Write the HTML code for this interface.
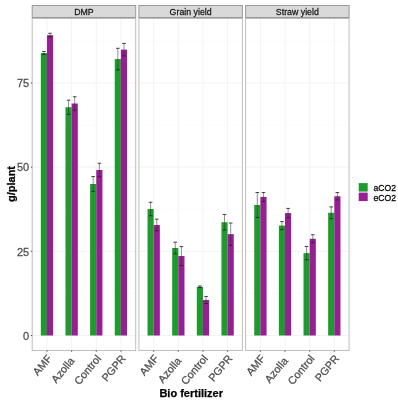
<!DOCTYPE html>
<html><head><meta charset="utf-8"><style>
html,body{margin:0;padding:0;background:#fff;width:398px;height:400px;overflow:hidden}
svg{display:block;font-family:"Liberation Sans", sans-serif;will-change:transform}
text{stroke-width:0.25px}
</style></head><body>
<svg width="398" height="400" viewBox="0 0 398 400">
<rect x="0" y="0" width="398" height="400" fill="#fff"/>
<rect x="32.2" y="18.5" width="103.5" height="332" fill="#fff"/>
<line x1="32.2" x2="135.7" y1="293.41" y2="293.41" stroke="#fafafa" stroke-width="0.8"/>
<line x1="32.2" x2="135.7" y1="209.24" y2="209.24" stroke="#fafafa" stroke-width="0.8"/>
<line x1="32.2" x2="135.7" y1="125.06" y2="125.06" stroke="#fafafa" stroke-width="0.8"/>
<line x1="32.2" x2="135.7" y1="40.89" y2="40.89" stroke="#fafafa" stroke-width="0.8"/>
<line x1="32.2" x2="135.7" y1="335.5" y2="335.5" stroke="#f3f3f3" stroke-width="1"/>
<line x1="32.2" x2="135.7" y1="251.32" y2="251.32" stroke="#f3f3f3" stroke-width="1"/>
<line x1="32.2" x2="135.7" y1="167.15" y2="167.15" stroke="#f3f3f3" stroke-width="1"/>
<line x1="32.2" x2="135.7" y1="82.97" y2="82.97" stroke="#f3f3f3" stroke-width="1"/>
<line x1="46.99" x2="46.99" y1="18.5" y2="350.5" stroke="#f3f3f3" stroke-width="1"/>
<line x1="71.63" x2="71.63" y1="18.5" y2="350.5" stroke="#f3f3f3" stroke-width="1"/>
<line x1="96.27" x2="96.27" y1="18.5" y2="350.5" stroke="#f3f3f3" stroke-width="1"/>
<line x1="120.91" x2="120.91" y1="18.5" y2="350.5" stroke="#f3f3f3" stroke-width="1"/>
<rect x="40.83" y="53.01" width="6.16" height="282.49" fill="#1f9a2e"/>
<rect x="46.99" y="35.16" width="6.16" height="300.34" fill="#961f92"/>
<rect x="65.47" y="107.22" width="6.16" height="228.28" fill="#1f9a2e"/>
<rect x="71.63" y="103.51" width="6.16" height="231.99" fill="#961f92"/>
<rect x="90.11" y="183.99" width="6.16" height="151.51" fill="#1f9a2e"/>
<rect x="96.27" y="170.01" width="6.16" height="165.49" fill="#961f92"/>
<rect x="114.75" y="59.07" width="6.16" height="276.43" fill="#1f9a2e"/>
<rect x="120.91" y="49.64" width="6.16" height="285.86" fill="#961f92"/>
<path d="M43.91 51.49V54.52" stroke="#333" stroke-width="0.55" fill="none"/>
<path d="M42.11 51.49H45.71M42.11 54.52H45.71" stroke="#222" stroke-width="0.85" fill="none"/>
<path d="M50.07 33.31V37.02" stroke="#333" stroke-width="0.55" fill="none"/>
<path d="M48.27 33.31H51.87M48.27 37.02H51.87" stroke="#222" stroke-width="0.85" fill="none"/>
<path d="M68.55 100.15V114.29" stroke="#333" stroke-width="0.55" fill="none"/>
<path d="M66.75 100.15H70.35M66.75 114.29H70.35" stroke="#222" stroke-width="0.85" fill="none"/>
<path d="M74.71 96.78V110.25" stroke="#333" stroke-width="0.55" fill="none"/>
<path d="M72.91 96.78H76.51M72.91 110.25H76.51" stroke="#222" stroke-width="0.85" fill="none"/>
<path d="M93.19 176.58V191.39" stroke="#333" stroke-width="0.55" fill="none"/>
<path d="M91.39 176.58H94.99M91.39 191.39H94.99" stroke="#222" stroke-width="0.85" fill="none"/>
<path d="M99.35 163.28V176.75" stroke="#333" stroke-width="0.55" fill="none"/>
<path d="M97.55 163.28H101.15M97.55 176.75H101.15" stroke="#222" stroke-width="0.85" fill="none"/>
<path d="M117.83 48.29V69.84" stroke="#333" stroke-width="0.55" fill="none"/>
<path d="M116.03 48.29H119.63M116.03 69.84H119.63" stroke="#222" stroke-width="0.85" fill="none"/>
<path d="M123.99 43.41V55.87" stroke="#333" stroke-width="0.55" fill="none"/>
<path d="M122.19 43.41H125.79M122.19 55.87H125.79" stroke="#222" stroke-width="0.85" fill="none"/>
<rect x="32.2" y="18.5" width="103.5" height="332" fill="none" stroke="#bdbdbd" stroke-width="1"/>
<rect x="32.2" y="5.5" width="103.5" height="12" fill="#d9d9d9" stroke="#999" stroke-width="1"/>
<text transform="translate(83.95 14.6) scale(1 1.1)" x="0" y="0" font-size="8.8" fill="#1a1a1a" stroke="#1a1a1a" text-anchor="middle">DMP</text>
<line x1="46.99" x2="46.99" y1="350.5" y2="351.8" stroke="#555" stroke-width="1"/>
<text transform="translate(46.49 353.8) rotate(-50) scale(1 1.0)" x="0" y="7.78" font-size="10.8" fill="#4d4d4d" stroke="#4d4d4d" text-anchor="end">AMF</text>
<line x1="71.63" x2="71.63" y1="350.5" y2="351.8" stroke="#555" stroke-width="1"/>
<text transform="translate(71.13 353.8) rotate(-50) scale(1 1.0)" x="0" y="7.78" font-size="10.8" fill="#4d4d4d" stroke="#4d4d4d" text-anchor="end">Azolla&#160;</text>
<line x1="96.27" x2="96.27" y1="350.5" y2="351.8" stroke="#555" stroke-width="1"/>
<text transform="translate(95.77 353.8) rotate(-50) scale(1 1.0)" x="0" y="7.78" font-size="10.8" fill="#4d4d4d" stroke="#4d4d4d" text-anchor="end">Control</text>
<line x1="120.91" x2="120.91" y1="350.5" y2="351.8" stroke="#555" stroke-width="1"/>
<text transform="translate(120.41 353.8) rotate(-50) scale(1 1.0)" x="0" y="7.78" font-size="10.8" fill="#4d4d4d" stroke="#4d4d4d" text-anchor="end">PGPR</text>
<rect x="138.9" y="18.5" width="103.5" height="332" fill="#fff"/>
<line x1="138.9" x2="242.4" y1="293.41" y2="293.41" stroke="#fafafa" stroke-width="0.8"/>
<line x1="138.9" x2="242.4" y1="209.24" y2="209.24" stroke="#fafafa" stroke-width="0.8"/>
<line x1="138.9" x2="242.4" y1="125.06" y2="125.06" stroke="#fafafa" stroke-width="0.8"/>
<line x1="138.9" x2="242.4" y1="40.89" y2="40.89" stroke="#fafafa" stroke-width="0.8"/>
<line x1="138.9" x2="242.4" y1="335.5" y2="335.5" stroke="#f3f3f3" stroke-width="1"/>
<line x1="138.9" x2="242.4" y1="251.32" y2="251.32" stroke="#f3f3f3" stroke-width="1"/>
<line x1="138.9" x2="242.4" y1="167.15" y2="167.15" stroke="#f3f3f3" stroke-width="1"/>
<line x1="138.9" x2="242.4" y1="82.97" y2="82.97" stroke="#f3f3f3" stroke-width="1"/>
<line x1="153.69" x2="153.69" y1="18.5" y2="350.5" stroke="#f3f3f3" stroke-width="1"/>
<line x1="178.33" x2="178.33" y1="18.5" y2="350.5" stroke="#f3f3f3" stroke-width="1"/>
<line x1="202.97" x2="202.97" y1="18.5" y2="350.5" stroke="#f3f3f3" stroke-width="1"/>
<line x1="227.61" x2="227.61" y1="18.5" y2="350.5" stroke="#f3f3f3" stroke-width="1"/>
<rect x="147.53" y="209" width="6.16" height="126.5" fill="#1f9a2e"/>
<rect x="153.69" y="225.06" width="6.16" height="110.44" fill="#961f92"/>
<rect x="172.17" y="247.99" width="6.16" height="87.51" fill="#1f9a2e"/>
<rect x="178.33" y="256.04" width="6.16" height="79.46" fill="#961f92"/>
<rect x="196.81" y="286.81" width="6.16" height="48.69" fill="#1f9a2e"/>
<rect x="202.97" y="299.98" width="6.16" height="35.52" fill="#961f92"/>
<rect x="221.45" y="222.23" width="6.16" height="113.27" fill="#1f9a2e"/>
<rect x="227.61" y="234.15" width="6.16" height="101.35" fill="#961f92"/>
<path d="M150.61 202.27V215.74" stroke="#333" stroke-width="0.55" fill="none"/>
<path d="M148.81 202.27H152.41M148.81 215.74H152.41" stroke="#222" stroke-width="0.85" fill="none"/>
<path d="M156.77 219.17V230.95" stroke="#333" stroke-width="0.55" fill="none"/>
<path d="M154.97 219.17H158.57M154.97 230.95H158.57" stroke="#222" stroke-width="0.85" fill="none"/>
<path d="M175.25 242.2V253.78" stroke="#333" stroke-width="0.55" fill="none"/>
<path d="M173.45 242.2H177.05M173.45 253.78H177.05" stroke="#222" stroke-width="0.85" fill="none"/>
<path d="M181.41 246.61V265.47" stroke="#333" stroke-width="0.55" fill="none"/>
<path d="M179.61 246.61H183.21M179.61 265.47H183.21" stroke="#222" stroke-width="0.85" fill="none"/>
<path d="M199.89 285.97V287.65" stroke="#333" stroke-width="0.55" fill="none"/>
<path d="M198.09 285.97H201.69M198.09 287.65H201.69" stroke="#222" stroke-width="0.85" fill="none"/>
<path d="M206.05 296.44V303.51" stroke="#333" stroke-width="0.55" fill="none"/>
<path d="M204.25 296.44H207.85M204.25 303.51H207.85" stroke="#222" stroke-width="0.85" fill="none"/>
<path d="M224.53 214.49V229.98" stroke="#333" stroke-width="0.55" fill="none"/>
<path d="M222.73 214.49H226.33M222.73 229.98H226.33" stroke="#222" stroke-width="0.85" fill="none"/>
<path d="M230.69 223.04V245.26" stroke="#333" stroke-width="0.55" fill="none"/>
<path d="M228.89 223.04H232.49M228.89 245.26H232.49" stroke="#222" stroke-width="0.85" fill="none"/>
<rect x="138.9" y="18.5" width="103.5" height="332" fill="none" stroke="#bdbdbd" stroke-width="1"/>
<rect x="138.9" y="5.5" width="103.5" height="12" fill="#d9d9d9" stroke="#999" stroke-width="1"/>
<text transform="translate(190.65 14.6) scale(1 1.1)" x="0" y="0" font-size="8.8" fill="#1a1a1a" stroke="#1a1a1a" text-anchor="middle">Grain yield</text>
<line x1="153.69" x2="153.69" y1="350.5" y2="351.8" stroke="#555" stroke-width="1"/>
<text transform="translate(153.19 353.8) rotate(-50) scale(1 1.0)" x="0" y="7.78" font-size="10.8" fill="#4d4d4d" stroke="#4d4d4d" text-anchor="end">AMF</text>
<line x1="178.33" x2="178.33" y1="350.5" y2="351.8" stroke="#555" stroke-width="1"/>
<text transform="translate(177.83 353.8) rotate(-50) scale(1 1.0)" x="0" y="7.78" font-size="10.8" fill="#4d4d4d" stroke="#4d4d4d" text-anchor="end">Azolla&#160;</text>
<line x1="202.97" x2="202.97" y1="350.5" y2="351.8" stroke="#555" stroke-width="1"/>
<text transform="translate(202.47 353.8) rotate(-50) scale(1 1.0)" x="0" y="7.78" font-size="10.8" fill="#4d4d4d" stroke="#4d4d4d" text-anchor="end">Control</text>
<line x1="227.61" x2="227.61" y1="350.5" y2="351.8" stroke="#555" stroke-width="1"/>
<text transform="translate(227.11 353.8) rotate(-50) scale(1 1.0)" x="0" y="7.78" font-size="10.8" fill="#4d4d4d" stroke="#4d4d4d" text-anchor="end">PGPR</text>
<rect x="245.6" y="18.5" width="103.5" height="332" fill="#fff"/>
<line x1="245.6" x2="349.1" y1="293.41" y2="293.41" stroke="#fafafa" stroke-width="0.8"/>
<line x1="245.6" x2="349.1" y1="209.24" y2="209.24" stroke="#fafafa" stroke-width="0.8"/>
<line x1="245.6" x2="349.1" y1="125.06" y2="125.06" stroke="#fafafa" stroke-width="0.8"/>
<line x1="245.6" x2="349.1" y1="40.89" y2="40.89" stroke="#fafafa" stroke-width="0.8"/>
<line x1="245.6" x2="349.1" y1="335.5" y2="335.5" stroke="#f3f3f3" stroke-width="1"/>
<line x1="245.6" x2="349.1" y1="251.32" y2="251.32" stroke="#f3f3f3" stroke-width="1"/>
<line x1="245.6" x2="349.1" y1="167.15" y2="167.15" stroke="#f3f3f3" stroke-width="1"/>
<line x1="245.6" x2="349.1" y1="82.97" y2="82.97" stroke="#f3f3f3" stroke-width="1"/>
<line x1="260.39" x2="260.39" y1="18.5" y2="350.5" stroke="#f3f3f3" stroke-width="1"/>
<line x1="285.03" x2="285.03" y1="18.5" y2="350.5" stroke="#f3f3f3" stroke-width="1"/>
<line x1="309.67" x2="309.67" y1="18.5" y2="350.5" stroke="#f3f3f3" stroke-width="1"/>
<line x1="334.31" x2="334.31" y1="18.5" y2="350.5" stroke="#f3f3f3" stroke-width="1"/>
<rect x="254.23" y="205" width="6.16" height="130.5" fill="#1f9a2e"/>
<rect x="260.39" y="196.91" width="6.16" height="138.59" fill="#961f92"/>
<rect x="278.87" y="225.6" width="6.16" height="109.9" fill="#1f9a2e"/>
<rect x="285.03" y="213.11" width="6.16" height="122.39" fill="#961f92"/>
<rect x="303.51" y="253.11" width="6.16" height="82.39" fill="#1f9a2e"/>
<rect x="309.67" y="238.77" width="6.16" height="96.73" fill="#961f92"/>
<rect x="328.15" y="212.77" width="6.16" height="122.73" fill="#1f9a2e"/>
<rect x="334.31" y="196.24" width="6.16" height="139.26" fill="#961f92"/>
<path d="M257.31 192.54V217.45" stroke="#333" stroke-width="0.55" fill="none"/>
<path d="M255.51 192.54H259.11M255.51 217.45H259.11" stroke="#222" stroke-width="0.85" fill="none"/>
<path d="M263.47 192.54V201.29" stroke="#333" stroke-width="0.55" fill="none"/>
<path d="M261.67 192.54H265.27M261.67 201.29H265.27" stroke="#222" stroke-width="0.85" fill="none"/>
<path d="M281.95 221.56V229.64" stroke="#333" stroke-width="0.55" fill="none"/>
<path d="M280.15 221.56H283.75M280.15 229.64H283.75" stroke="#222" stroke-width="0.85" fill="none"/>
<path d="M288.11 208.4V217.82" stroke="#333" stroke-width="0.55" fill="none"/>
<path d="M286.31 208.4H289.91M286.31 217.82H289.91" stroke="#222" stroke-width="0.85" fill="none"/>
<path d="M306.59 246.51V259.71" stroke="#333" stroke-width="0.55" fill="none"/>
<path d="M304.79 246.51H308.39M304.79 259.71H308.39" stroke="#222" stroke-width="0.85" fill="none"/>
<path d="M312.75 234.76V242.77" stroke="#333" stroke-width="0.55" fill="none"/>
<path d="M310.95 234.76H314.55M310.95 242.77H314.55" stroke="#222" stroke-width="0.85" fill="none"/>
<path d="M331.23 206.88V218.67" stroke="#333" stroke-width="0.55" fill="none"/>
<path d="M329.43 206.88H333.03M329.43 218.67H333.03" stroke="#222" stroke-width="0.85" fill="none"/>
<path d="M337.39 192.54V199.94" stroke="#333" stroke-width="0.55" fill="none"/>
<path d="M335.59 192.54H339.19M335.59 199.94H339.19" stroke="#222" stroke-width="0.85" fill="none"/>
<rect x="245.6" y="18.5" width="103.5" height="332" fill="none" stroke="#bdbdbd" stroke-width="1"/>
<rect x="245.6" y="5.5" width="103.5" height="12" fill="#d9d9d9" stroke="#999" stroke-width="1"/>
<text transform="translate(297.35 14.6) scale(1 1.1)" x="0" y="0" font-size="8.8" fill="#1a1a1a" stroke="#1a1a1a" text-anchor="middle">Straw yield</text>
<line x1="260.39" x2="260.39" y1="350.5" y2="351.8" stroke="#555" stroke-width="1"/>
<text transform="translate(259.89 353.8) rotate(-50) scale(1 1.0)" x="0" y="7.78" font-size="10.8" fill="#4d4d4d" stroke="#4d4d4d" text-anchor="end">AMF</text>
<line x1="285.03" x2="285.03" y1="350.5" y2="351.8" stroke="#555" stroke-width="1"/>
<text transform="translate(284.53 353.8) rotate(-50) scale(1 1.0)" x="0" y="7.78" font-size="10.8" fill="#4d4d4d" stroke="#4d4d4d" text-anchor="end">Azolla&#160;</text>
<line x1="309.67" x2="309.67" y1="350.5" y2="351.8" stroke="#555" stroke-width="1"/>
<text transform="translate(309.17 353.8) rotate(-50) scale(1 1.0)" x="0" y="7.78" font-size="10.8" fill="#4d4d4d" stroke="#4d4d4d" text-anchor="end">Control</text>
<line x1="334.31" x2="334.31" y1="350.5" y2="351.8" stroke="#555" stroke-width="1"/>
<text transform="translate(333.81 353.8) rotate(-50) scale(1 1.0)" x="0" y="7.78" font-size="10.8" fill="#4d4d4d" stroke="#4d4d4d" text-anchor="end">PGPR</text>
<line x1="30.8" x2="32.2" y1="335.5" y2="335.5" stroke="#555" stroke-width="1"/>
<text transform="translate(29.2 339.7) scale(1 1.04)" x="0" y="0" font-size="11.0" fill="#4d4d4d" stroke="#4d4d4d" text-anchor="end">0</text>
<line x1="30.8" x2="32.2" y1="251.32" y2="251.32" stroke="#555" stroke-width="1"/>
<text transform="translate(29.2 255.52) scale(1 1.04)" x="0" y="0" font-size="11.0" fill="#4d4d4d" stroke="#4d4d4d" text-anchor="end">25</text>
<line x1="30.8" x2="32.2" y1="167.15" y2="167.15" stroke="#555" stroke-width="1"/>
<text transform="translate(29.2 171.35) scale(1 1.04)" x="0" y="0" font-size="11.0" fill="#4d4d4d" stroke="#4d4d4d" text-anchor="end">50</text>
<line x1="30.8" x2="32.2" y1="82.97" y2="82.97" stroke="#555" stroke-width="1"/>
<text transform="translate(29.2 87.17) scale(1 1.04)" x="0" y="0" font-size="11.0" fill="#4d4d4d" stroke="#4d4d4d" text-anchor="end">75</text>
<text transform="translate(15.4 184) rotate(-90)" x="0" y="0" font-size="11.0" font-weight="bold" fill="#000" stroke="#000" text-anchor="middle">g/plant</text>
<text x="191.2" y="397.1" font-size="11.0" font-weight="bold" fill="#000" stroke="#000" text-anchor="middle">Bio fertilizer</text>
<rect x="358.7" y="183.1" width="9" height="8.5" fill="#1f9a2e"/>
<rect x="358.7" y="192.6" width="9" height="8.5" fill="#961f92"/>
<text transform="translate(373.6 190.7) scale(1 1.07)" x="0" y="0" font-size="8.6" fill="#000" stroke="#000">aCO2</text>
<text transform="translate(373.6 200.8) scale(1 1.07)" x="0" y="0" font-size="8.6" fill="#000" stroke="#000">eCO2</text>
</svg>
</body></html>
